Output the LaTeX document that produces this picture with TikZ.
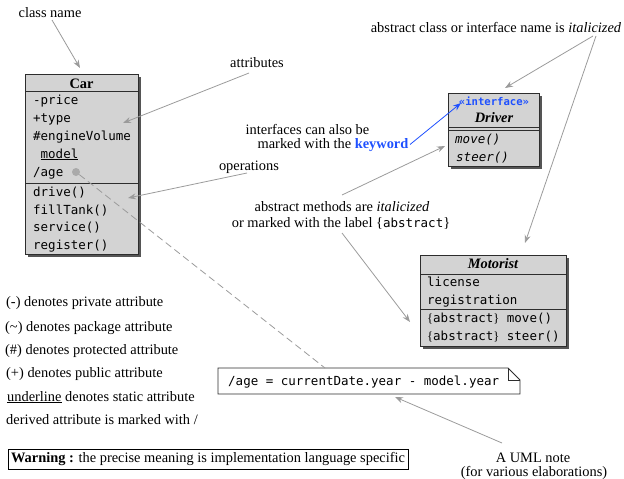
\documentclass[tikz,border=0pt]{standalone}
\usepackage{fontspec}
\setmainfont{Liberation Serif}
\setmonofont{DejaVu Sans Mono}
\usetikzlibrary{arrows.meta,shadows}
\definecolor{clsfill}{RGB}{211,211,211}
\definecolor{clsline}{RGB}{45,45,45}
\definecolor{shade}{RGB}{85,85,85}
\definecolor{annot}{RGB}{155,155,155}
\definecolor{dotgray}{RGB}{170,170,170}
\definecolor{kwblue}{RGB}{30,80,255}
\newcommand\serf{\fontsize{14.4pt}{16pt}\selectfont}
\newcommand\monf{\fontsize{12.5pt}{15pt}\selectfont\ttfamily}
\begin{document}
\begin{tikzpicture}[x=1pt,y=-1pt,
  every node/.style={inner sep=0pt},
  clsbox/.style={draw=clsline, line width=1pt, fill=clsfill,
    drop shadow={shadow xshift=3pt, shadow yshift=-3pt, fill=shade, opacity=1}},
  sepline/.style={draw=clsline, line width=1pt},
  ttxt/.style={anchor=base west, font=\monf},
  lbl/.style={anchor=base, font=\serf},
  legend/.style={anchor=base west, font=\serf},
  ann/.style={draw=annot, line width=0.8pt, -{Stealth[length=8pt,width=6pt]}},
  annblue/.style={draw=kwblue, line width=0.8pt, -{Stealth[length=8pt,width=6pt]}},
  dashline/.style={draw=annot, line width=0.8pt, dash pattern=on 7pt off 4pt}]
\useasboundingbox (0,0) rectangle (624,479);

% ---------- Car ----------
\node[clsbox, minimum width=113pt, minimum height=180pt] (car) at (81.5,164) {};
\draw[sepline] (25,91.7) -- (138,91.7);
\draw[sepline] (25,183.3) -- (138,183.3);
\node[lbl, font=\serf\bfseries] (cart) at (81.5,88) {Car};
\node[ttxt] (ca1) at (33,104.5) {-price};
\node[ttxt] (ca2) at (33,122.5) {+type};
\node[ttxt] (ca3) at (33,140.5) {\#engineVolume};
\node[ttxt] (ca4) at (40.5,158) {\underline{model}};
\node[ttxt] (ca5) at (33,176) {/age};
\node[ttxt] (co1) at (33,196.5) {drive()};
\node[ttxt] (co2) at (33,214) {fillTank()};
\node[ttxt] (co3) at (33,231.5) {service()};
\node[ttxt] (co4) at (33,249) {register()};

% ---------- Driver ----------
\node[clsbox, minimum width=91pt, minimum height=73pt] (drv) at (493.5,129.5) {};
\draw[sepline] (448,127.6) -- (539,127.6);
\draw[sepline] (448,130.6) -- (539,130.6);
\node[lbl, font=\fontsize{10.6pt}{12pt}\selectfont\ttfamily\bfseries, text=kwblue] (drvk) at (494,105.5) {«interface»};
\node[lbl, font=\serf\bfseries\itshape] (drvt) at (494,122.7) {Driver};
\node[ttxt, font=\monf\itshape] (dm1) at (455,143.5) {move()};
\node[ttxt, font=\monf\itshape] (dm2) at (456,161) {steer()};

% ---------- Motorist ----------
\node[clsbox, minimum width=146pt, minimum height=91pt] (mot) at (493,300.5) {};
\draw[sepline] (420,274) -- (566,274);
\draw[sepline] (420,309.5) -- (566,309.5);
\node[lbl, font=\serf\bfseries\itshape] (mott) at (493,268.8) {Motorist};
\node[ttxt] (ma1) at (427,286.5) {license};
\node[ttxt] (ma2) at (427,304) {registration};
\node[ttxt] (mo1) at (427,322) {{\rmfamily\{}abstract{\rmfamily\}} move()};
\node[ttxt] (mo2) at (427,340) {{\rmfamily\{}abstract{\rmfamily\}} steer()};

% ---------- Note ----------
\draw[draw=clsline, line width=0.9pt, fill=white] (218,368) -- (508,368) -- (520,380) -- (520,394) -- (218,394) -- cycle;
\draw[draw=clsline, line width=0.6pt] (508,368) -- (508,380) -- (520,380);
\node[ttxt] (note) at (228,385.5) {/age = currentDate.year - model.year};
\coordinate (notetop) at (325,368);

% ---------- derived link ----------
\node[circle, fill=dotgray, minimum size=8pt] (agedot) at (76,172) {};
\draw[dashline] (agedot) -- (notetop);

% ---------- annotations ----------
\node[lbl] (cn) at (50,17) {class name};
\node[lbl] (attr) at (257,67) {attributes};
\node[lbl] (ops) at (249,170) {operations};
\node[lbl] (ifc1) at (307.5,134) {interfaces can also be};
\node[lbl] (ifc2) at (333,148.5) {marked with the \textcolor{kwblue}{\textbf{keyword}}};
\node[lbl] (am1) at (342,211) {abstract methods are \textit{italicized}};
\node[lbl] (am2) at (341,227) {or marked with the label \{{\monf abstract}\}};
\node[lbl] (absn) at (496,32) {abstract class or interface name is \textit{italicized}};
\node[lbl] (uml1) at (533,462) {A UML note};
\node[lbl] (uml2) at (534,476.5) {(for various elaborations)};

\coordinate (cnS) at (52,20);
\coordinate (carTop) at (80,68);
\coordinate (attrS) at (249,73);
\coordinate (carAttr) at (123,123);
\coordinate (opsS) at (247,173);
\coordinate (carOps) at (128,198);
\coordinate (kwE) at (410,144.5);
\coordinate (drvKw) at (461,103);
\coordinate (amN) at (342,195);
\coordinate (drvOps) at (445,146);
\coordinate (amS) at (342,233);
\coordinate (motOps) at (410,322);
\coordinate (absnA) at (593,36);
\coordinate (drvTop) at (505,88);
\coordinate (absnB) at (596,36);
\coordinate (motTop) at (525,243);
\coordinate (umlN) at (502,443);
\coordinate (noteBot) at (395,397);

\draw[ann] (cnS) -- (carTop);
\draw[ann] (attrS) -- (carAttr);
\draw[ann] (opsS) -- (carOps);
\draw[annblue] (kwE) -- (drvKw);
\draw[ann] (amN) -- (drvOps);
\draw[ann] (amS) -- (motOps);
\draw[ann] (absnA) -- (drvTop);
\draw[ann] (absnB) -- (motTop);
\draw[ann] (umlN) -- (noteBot);

% ---------- legend ----------
\node[legend] (l1) at (6,306) {(-) denotes private attribute};
\node[legend] (l2) at (5,331) {(\textasciitilde) denotes package attribute};
\node[legend] (l3) at (5,354) {(\#) denotes protected attribute};
\node[legend] (l4) at (6,377.5) {(+) denotes public attribute};
\node[legend] (l5) at (7,401) {\underline{underline} denotes static attribute};
\node[legend] (l6) at (6,424.5) {derived attribute is marked with /};

\node[draw=black, line width=0.9pt, inner xsep=3pt, inner ysep=3pt, font=\serf] (warn) at (208,459.5)
  {\textbf{Warning :} the precise meaning is implementation language specific};
\end{tikzpicture}
\end{document}
